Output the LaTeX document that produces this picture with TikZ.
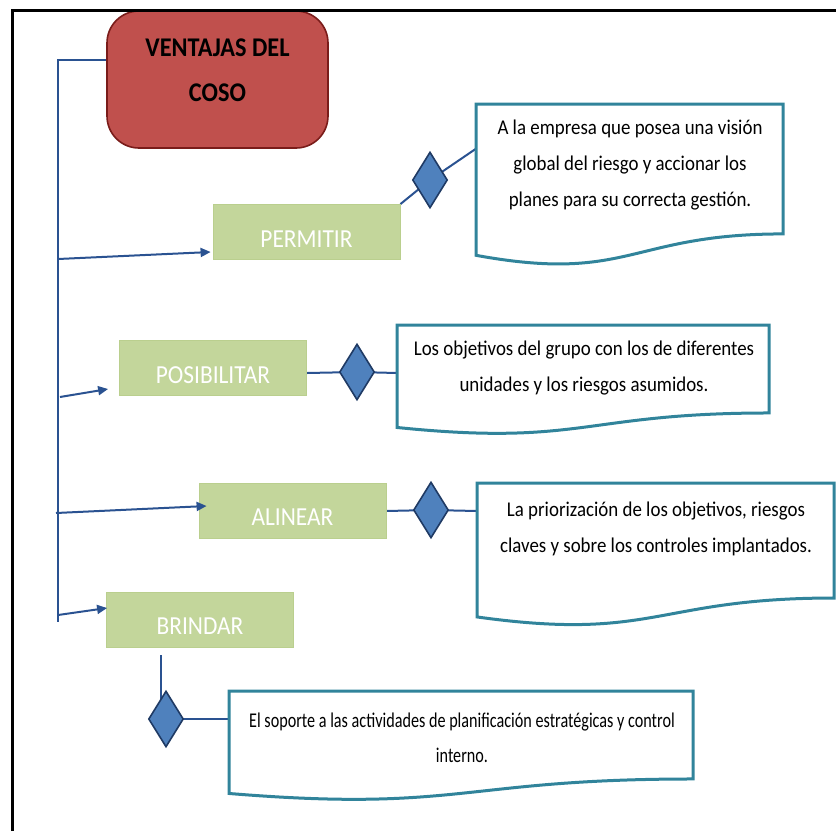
\documentclass[tikz,border=0pt]{standalone}
\usepackage{fontspec}
\newfontfamily\carl{Carlito}[FakeStretch=0.9]
\newfontfamily\carlnarrow{Carlito}[FakeStretch=0.77]
\usetikzlibrary{shapes.geometric,arrows.meta,calc}
\definecolor{titlered}{HTML}{C0504D}
\definecolor{titledark}{HTML}{7A1C1A}
\definecolor{boxgreen}{HTML}{C3D69B}
\definecolor{boxgreenb}{HTML}{BACF8E}
\definecolor{diablue}{HTML}{4F81BD}
\definecolor{diadark}{HTML}{1F3A64}
\definecolor{linkblue}{HTML}{2A5291}
\definecolor{docteal}{HTML}{31849B}
\pgfdeclarelayer{bg}
\pgfsetlayers{bg,main}
\newcommand\docpath[4]{%
  \draw[docline] (#1,#2) -- (#3,#2) -- (#3,{#2+0.802*#4})
    .. controls ({(#1+#3)/2},{#2+0.802*#4}) and ({(#1+#3)/2},{#2+1.1075*#4}) ..
    (#1,{#2+0.934*#4}) -- cycle;}
\begin{document}
\begin{tikzpicture}[x=1pt,y=-1pt,
  titlebox/.style={draw=titledark, fill=titlered, line width=1.6pt, rounded corners=32pt,
    minimum width=221pt, minimum height=137pt, inner sep=0pt},
  titletext/.style={align=center, inner sep=0pt,
    font=\carl\bfseries\fontsize{27}{45}\selectfont},
  greenbox/.style={fill=boxgreen, draw=boxgreenb, line width=0.8pt, minimum width=187pt,
    minimum height=55pt, inner sep=0pt, text=white, font=\carl\fontsize{26}{26}\selectfont,
    text height=30pt, text depth=0pt},
  dia/.style={diamond, fill=diablue, draw=diadark, line width=1.6pt, minimum width=35pt,
    minimum height=56pt, inner sep=0pt},
  link/.style={draw=linkblue, line width=2pt},
  arr/.style={link, -{Triangle[length=10pt,width=9pt]}},
  doctext/.style={align=center, inner sep=0pt, font=\carl\fontsize{21}{36}\selectfont},
  docline/.style={draw=docteal, line width=3pt, fill=white, line join=miter}]
\useasboundingbox (0,0) rectangle (836,831);

% title
\node[titlebox] (title) at (217.5,79.5) {};
\node[titletext] (titlet) at (217.5,70) {VENTAJAS DEL\\COSO};

% green boxes
\node[greenbox] (permitir) at (306.5,232) {PERMITIR};
\node[greenbox] (posibilitar) at (213,368) {POSIBILITAR};
\node[greenbox] (alinear) at (292.5,510.5) {ALINEAR};
\node[greenbox] (brindar) at (200,619.5) {BRINDAR};

% document shapes
\docpath{476}{104}{783}{162}
\docpath{397}{325}{769}{109.7}
\docpath{477}{483}{834}{143.4}
\docpath{229}{691}{693}{109.7}

\node[doctext] (t1) at (630,165) {A la empresa que posea una visión\\global del riesgo y accionar los\\planes para su correcta gestión.};
\node[doctext] (t2) at (584,368) {Los objetivos del grupo con los de diferentes\\unidades y los riesgos asumidos.};
\node[doctext] (t3) at (656,528.5) {La priorización de los objetivos, riesgos\\claves y sobre los controles implantados.};
\node[doctext, font=\carlnarrow\fontsize{21}{35}\selectfont] (t4) at (462,737.5) {El soporte a las actividades de planificación estratégicas y control\\interno.};

% diamonds
\node[dia] (d1) at (430,180) {};
\node[dia] (d2) at (357,372) {};
\node[dia] (d3) at (431,510) {};
\node[dia] (d4) at (166,719) {};

% named coordinates
\coordinate (c1) at (477,148);
\coordinate (c2) at (397,373);
\coordinate (c3) at (477,511);
\coordinate (c4) at (229,719);
\coordinate (b4a) at (161,655);
\coordinate (b4b) at (161,700);
\coordinate (trtop) at (58,60);
\coordinate (trbot) at (58,622);
\coordinate (s1) at (58,259);
\coordinate (s2) at (60,397);
\coordinate (s3) at (56,513);
\coordinate (s4) at (58,615);

\begin{pgfonlayer}{bg}
  \draw[link] ([yshift=19.5pt]title.west) -- (trtop) -- (trbot);
  \draw[link] (permitir.north east) -- (d1.center) -- (c1);
  \draw[link] ([yshift=-5pt]posibilitar.east) -- (d2.center) -- (c2);
  \draw[link] ([yshift=-0.5pt]alinear.east) -- (d3.center) -- (c3);
  \draw[link] (b4a) -- (b4b);
  \draw[link] (d4.center) -- (c4);
\end{pgfonlayer}

% arrows
\draw[arr] (s1) -- ([xshift=-2pt,yshift=-20pt]permitir.west);
\draw[arr] (s2) -- ([xshift=-11pt,yshift=-21pt]posibilitar.west);
\draw[arr] (s3) -- ([xshift=8pt,yshift=4.5pt]alinear.west);
\draw[arr] (s4) -- ([xshift=1pt,yshift=11.5pt]brindar.west);

% frame
\draw[line width=3pt] (12,831) -- (12,10) -- (836,10);
\end{tikzpicture}
\end{document}
